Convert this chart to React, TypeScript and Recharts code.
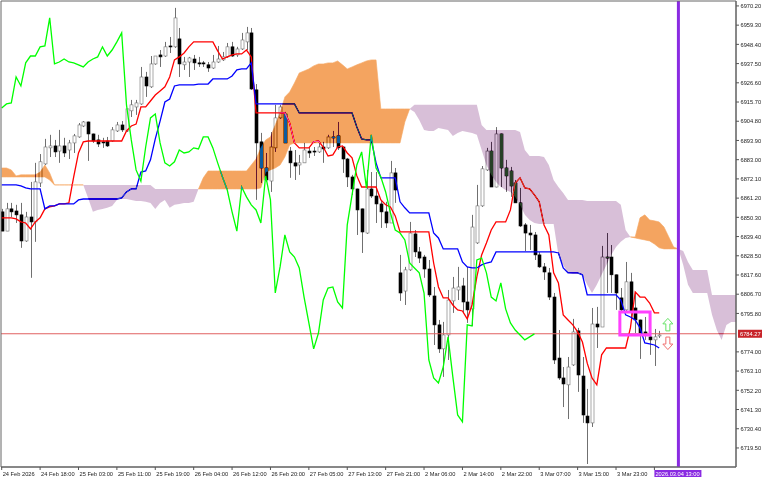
import {
  Area,
  Bar,
  CartesianGrid,
  ComposedChart,
  Line,
  ReferenceArea,
  ReferenceDot,
  ReferenceLine,
  XAxis,
  YAxis,
} from "recharts";

const FONT = "'Liberation Sans', sans-serif";
const FONT_SIZE = 5.7;
const PURPLE = "#8a2be2";
const LAST_PRICE = 6784.27;
const LAST_PRICE_COLOR = "#c8242a";

const opens = [
  6853.4, 6842.5, 6855.1, 6853.9, 6851.7, 6836.9, 6850.5, 6847.7, 6869.8, 6880.6,
  6889.7, 6890.8, 6887.9, 6890.8, 6888.5, 6892.5, 6895.9, 6902.1, 6904.4, 6897.6,
  6894.2, 6893.1, 6893.6, 6893.6, 6899.3, 6902.7, 6899.3, 6910.7, 6912.9, 6914.6,
  6929.9, 6924.3, 6937.3, 6942.4, 6941.8, 6947.5, 6947.0, 6951.5, 6936.8, 6938.4,
  6940.1, 6937.9, 6937.9, 6936.8, 6935.0, 6938.4, 6939.6, 6941.3, 6947.0, 6942.4,
  6945.8, 6949.8, 6954.9, 6922.6, 6893.1, 6878.3, 6870.9, 6889.7, 6906.7, 6908.9,
  6887.9, 6881.2, 6880.0, 6881.2, 6887.9, 6887.9, 6887.4, 6890.2, 6889.7, 6895.9,
  6896.5, 6890.2, 6883.4, 6873.2, 6866.4, 6855.1, 6841.4, 6866.4, 6862.4, 6857.9,
  6853.4, 6847.1, 6875.5, 6818.8, 6808.5, 6820.5, 6840.9, 6830.7, 6827.8, 6821.0,
  6805.7, 6789.3, 6775.7, 6783.6, 6802.9, 6809.1, 6811.4, 6802.3, 6798.4, 6835.8,
  6856.8, 6877.2, 6887.9, 6867.5, 6897.6, 6878.3, 6876.6, 6869.8, 6858.5, 6846.0,
  6841.4, 6840.3, 6829.0, 6822.2, 6818.8, 6805.1, 6770.5, 6759.2, 6755.3, 6766.6,
  6785.9, 6760.3, 6737.6, 6733.7, 6789.8, 6788.1, 6827.8, 6827.8, 6817.7, 6804.6,
  6797.8, 6813.7, 6798.9, 6792.1, 6785.3, 6782.5, 6780.8, 6783.0,
];
const highs = [
  6855.1, 6858.5, 6858.5, 6857.4, 6858.5, 6853.4, 6870.4, 6881.2, 6886.2, 6894.8,
  6897.1, 6894.2, 6899.9, 6895.4, 6894.2, 6897.6, 6903.8, 6904.9, 6904.6, 6897.8,
  6897.1, 6895.4, 6895.9, 6901.5, 6904.4, 6904.9, 6911.8, 6916.9, 6916.9, 6935.6,
  6932.8, 6941.8, 6941.8, 6945.2, 6949.8, 6952.6, 6969.1, 6957.7, 6941.3, 6941.3,
  6942.4, 6941.3, 6939.0, 6938.4, 6942.4, 6947.5, 6944.1, 6949.2, 6949.8, 6947.0,
  6954.9, 6958.3, 6957.7, 6925.9, 6898.2, 6886.8, 6898.7, 6914.1, 6914.1, 6910.1,
  6890.2, 6888.5, 6885.7, 6892.5, 6890.2, 6890.2, 6893.1, 6893.1, 6897.1, 6899.3,
  6904.4, 6890.4, 6884.0, 6874.4, 6866.6, 6855.3, 6877.2, 6876.0, 6876.0, 6860.2,
  6859.1, 6882.3, 6878.3, 6829.0, 6822.2, 6847.7, 6843.1, 6833.5, 6829.0, 6826.1,
  6810.8, 6792.1, 6791.0, 6809.1, 6816.5, 6822.2, 6816.0, 6822.2, 6851.7, 6868.7,
  6879.4, 6889.7, 6893.1, 6901.5, 6897.8, 6882.9, 6878.9, 6871.5, 6867.0, 6847.1,
  6846.0, 6842.0, 6830.7, 6824.4, 6821.6, 6807.4, 6786.4, 6765.4, 6771.1, 6792.7,
  6787.6, 6771.1, 6753.0, 6798.9, 6799.5, 6834.1, 6841.4, 6834.6, 6817.9, 6810.2,
  6825.0, 6818.8, 6808.0, 6792.3, 6793.8, 6790.4, 6787.0, 6785.9,
];
const lows = [
  6842.5, 6842.5, 6850.5, 6847.1, 6833.0, 6836.4, 6816.0, 6836.4, 6867.5, 6880.0,
  6884.5, 6884.5, 6881.2, 6884.5, 6883.4, 6886.8, 6895.4, 6901.5, 6882.3, 6892.5,
  6890.2, 6889.7, 6890.2, 6893.1, 6898.7, 6898.7, 6898.7, 6907.2, 6908.4, 6914.1,
  6918.6, 6923.7, 6936.8, 6935.6, 6941.3, 6943.5, 6946.4, 6929.9, 6933.9, 6929.9,
  6933.9, 6935.6, 6935.6, 6932.8, 6934.5, 6937.9, 6939.0, 6940.7, 6941.3, 6941.3,
  6945.2, 6945.2, 6922.6, 6860.2, 6869.8, 6870.4, 6864.7, 6887.4, 6906.1, 6892.5,
  6872.7, 6871.5, 6874.4, 6881.2, 6884.0, 6885.1, 6886.8, 6881.2, 6889.1, 6890.2,
  6888.5, 6875.5, 6867.5, 6863.0, 6840.3, 6830.1, 6840.9, 6861.3, 6847.1, 6844.3,
  6844.3, 6847.1, 6858.5, 6802.9, 6800.6, 6819.9, 6827.8, 6824.4, 6816.0, 6805.1,
  6777.9, 6773.4, 6759.8, 6769.4, 6796.1, 6803.4, 6796.1, 6790.4, 6788.7, 6835.2,
  6856.2, 6876.6, 6867.5, 6867.3, 6867.5, 6864.7, 6861.9, 6858.5, 6844.8, 6831.2,
  6831.8, 6826.1, 6821.6, 6814.8, 6803.4, 6767.1, 6758.1, 6742.7, 6735.9, 6766.0,
  6751.3, 6733.7, 6710.4, 6731.4, 6776.2, 6788.1, 6807.4, 6807.4, 6797.8, 6796.6,
  6796.6, 6792.1, 6784.7, 6770.0, 6780.8, 6772.3, 6766.0, 6781.9,
];
const closes = [
  6842.5, 6855.1, 6853.4, 6851.7, 6836.9, 6850.5, 6847.7, 6870.4, 6881.8, 6890.2,
  6890.8, 6887.4, 6890.8, 6886.8, 6892.5, 6896.5, 6902.7, 6904.4, 6897.6, 6893.6,
  6891.9, 6892.5, 6890.8, 6899.9, 6902.7, 6899.9, 6911.8, 6914.1, 6915.2, 6929.9,
  6924.8, 6937.3, 6941.8, 6941.3, 6947.0, 6947.0, 6963.4, 6937.3, 6938.4, 6940.7,
  6937.9, 6937.3, 6937.3, 6935.0, 6938.4, 6940.1, 6941.3, 6947.0, 6941.8, 6945.8,
  6950.9, 6954.9, 6923.1, 6892.5, 6878.3, 6871.5, 6890.2, 6906.7, 6912.9, 6892.5,
  6881.2, 6879.4, 6881.2, 6888.5, 6886.8, 6887.4, 6890.2, 6889.1, 6895.9, 6895.4,
  6889.7, 6883.4, 6873.2, 6866.4, 6854.5, 6842.0, 6866.4, 6862.4, 6857.9, 6853.4,
  6847.1, 6875.5, 6865.8, 6807.4, 6820.5, 6841.4, 6830.7, 6827.2, 6821.0, 6806.3,
  6789.3, 6775.7, 6783.6, 6803.4, 6810.2, 6810.8, 6802.3, 6797.8, 6844.8, 6856.8,
  6877.8, 6887.9, 6867.5, 6897.6, 6878.3, 6873.8, 6868.1, 6858.5, 6845.4, 6841.4,
  6840.3, 6829.0, 6822.2, 6819.3, 6805.1, 6769.4, 6759.2, 6755.8, 6765.4, 6785.3,
  6760.9, 6738.2, 6733.7, 6789.8, 6788.1, 6827.8, 6827.2, 6817.7, 6807.4, 6797.8,
  6813.7, 6796.6, 6792.1, 6784.7, 6783.6, 6780.8, 6782.5, 6783.6,
];

const tenkan = [
  6850.0, 6850.0, 6850.0, 6849.4, 6847.7, 6847.1, 6843.7, 6847.7, 6850.0, 6855.1,
  6856.2, 6856.8, 6857.9, 6857.9, 6858.5, 6873.2, 6886.8, 6893.1, 6893.6, 6893.6,
  6893.6, 6893.6, 6893.6, 6893.6, 6893.6, 6893.6, 6899.3, 6902.1, 6903.2, 6912.9,
  6912.9, 6916.3, 6919.7, 6922.0, 6924.3, 6929.9, 6939.6, 6941.3, 6943.5, 6947.0,
  6949.8, 6949.8, 6949.8, 6949.8, 6949.8, 6944.7, 6940.1, 6941.3, 6942.4, 6943.0,
  6943.0, 6945.2, 6941.3, 6909.5, 6909.5, 6909.5, 6909.5, 6909.5, 6909.5, 6909.5,
  6903.8, 6892.5, 6889.7, 6889.7, 6889.7, 6893.1, 6893.6, 6890.2, 6885.1, 6885.7,
  6890.2, 6890.8, 6886.8, 6884.0, 6873.8, 6867.5, 6867.5, 6867.5, 6867.5, 6860.2,
  6857.4, 6856.2, 6851.1, 6842.0, 6842.0, 6842.0, 6842.0, 6842.0, 6842.0, 6842.0,
  6824.4, 6810.8, 6804.6, 6804.6, 6800.6, 6797.8, 6797.2, 6792.7, 6800.6, 6816.5,
  6829.0, 6835.8, 6843.1, 6847.7, 6847.7, 6847.7, 6854.5, 6869.8, 6872.7, 6867.0,
  6866.4, 6863.0, 6859.1, 6846.0, 6840.3, 6818.8, 6813.1, 6795.0, 6792.1, 6789.3,
  6785.3, 6779.6, 6767.6, 6759.2, 6755.3, 6772.3, 6776.2, 6776.2, 6776.2, 6776.2,
  6776.2, 6787.6, 6808.0, 6805.1, 6805.1, 6801.7, 6796.1, 6796.1,
];
const kijun = [
  6868.7, 6868.7, 6868.7, 6868.7, 6868.1, 6867.0, 6866.4, 6866.4, 6866.4, 6855.1,
  6856.8, 6856.8, 6857.9, 6857.9, 6857.9, 6857.9, 6860.2, 6860.7, 6860.7, 6860.7,
  6860.7, 6860.7, 6860.7, 6860.7, 6860.7, 6861.3, 6864.7, 6866.4, 6866.4, 6876.0,
  6876.6, 6882.9, 6894.8, 6904.9, 6915.7, 6917.4, 6924.8, 6925.4, 6925.4, 6925.4,
  6925.4, 6925.9, 6925.9, 6925.9, 6928.8, 6928.8, 6928.8, 6928.8, 6930.5, 6933.9,
  6934.5, 6934.5, 6937.9, 6914.6, 6914.6, 6914.6, 6914.6, 6914.6, 6914.6, 6914.6,
  6914.6, 6914.6, 6909.5, 6909.5, 6909.5, 6909.5, 6909.5, 6909.5, 6909.5, 6909.5,
  6909.5, 6909.5, 6909.5, 6909.5, 6901.5, 6894.8, 6894.2, 6894.2, 6881.2, 6872.7,
  6872.7, 6872.7, 6872.7, 6859.1, 6855.7, 6852.8, 6852.8, 6852.8, 6852.8, 6852.8,
  6841.4, 6838.6, 6832.4, 6832.4, 6832.4, 6832.4, 6825.0, 6822.2, 6821.6, 6821.6,
  6823.3, 6824.4, 6825.0, 6830.7, 6830.7, 6830.7, 6830.7, 6830.7, 6830.7, 6830.7,
  6830.7, 6830.7, 6830.7, 6830.7, 6830.7, 6830.7, 6830.1, 6821.6, 6818.8, 6818.8,
  6818.8, 6817.7, 6806.3, 6806.3, 6806.3, 6806.3, 6806.3, 6806.3, 6806.3, 6803.4,
  6795.0, 6793.8, 6792.1, 6787.6, 6779.1, 6778.5, 6777.9, 6776.2,
];
const chikou = [
  6912.3, 6914.6, 6915.2, 6929.9, 6924.8, 6937.9, 6941.8, 6941.8, 6947.0, 6947.5,
  6963.4, 6937.3, 6938.4, 6940.1, 6938.4, 6937.9, 6936.8, 6935.6, 6938.4, 6940.1,
  6941.3, 6947.0, 6941.8, 6945.2, 6949.8, 6954.9, 6914.1, 6894.2, 6877.2, 6870.9,
  6890.2, 6906.7, 6908.9, 6892.5, 6881.2, 6879.4, 6881.8, 6888.5, 6886.8, 6887.4,
  6889.7, 6889.1, 6895.9, 6895.9, 6889.7, 6881.2, 6873.2, 6865.8, 6853.4, 6842.5,
  6867.5, 6861.9, 6857.4, 6854.5, 6847.1, 6873.8, 6860.2, 6807.4, 6822.2, 6840.3,
  6830.7, 6827.8, 6821.6, 6805.1, 6790.4, 6775.7, 6784.7, 6803.4, 6810.2, 6810.8,
  6802.3, 6798.9, 6846.0, 6863.0, 6880.0, 6887.4, 6867.0, 6897.1, 6878.3, 6873.2,
  6864.7, 6852.8, 6843.1, 6841.4, 6837.5, 6824.4, 6821.6, 6818.8, 6807.4, 6769.4,
  6759.2, 6756.4, 6765.4, 6782.5, 6759.8, 6738.2, 6734.3, 6789.3, 6788.7, 6826.1,
  6827.2, 6818.8, 6805.1, 6802.9, 6813.1, 6798.4, 6790.4, 6786.4, 6783.6, 6780.8,
  6782.5, 6784.2,
];
const senkouA = [
  6878.3, 6878.3, 6877.2, 6873.8, 6874.4, 6874.4, 6874.4, 6874.4, 6876.0, 6880.0,
  6875.5, 6868.7, 6868.7, 6868.7, 6868.7, 6868.7, 6868.7, 6868.7, 6861.3, 6853.4,
  6854.5, 6855.1, 6855.7, 6856.8, 6860.2, 6860.7, 6860.7, 6860.2, 6859.6, 6859.6,
  6859.1, 6858.5, 6855.1, 6858.5, 6860.2, 6855.7, 6857.4, 6857.9, 6858.5, 6858.5,
  6859.1, 6866.4, 6872.7, 6876.6, 6876.6, 6876.6, 6876.6, 6876.6, 6876.6, 6876.6,
  6876.6, 6876.6, 6880.0, 6883.4, 6889.7, 6894.2, 6895.9, 6902.7, 6909.5, 6918.6,
  6921.4, 6926.5, 6932.2, 6933.3, 6934.5, 6936.2, 6937.3, 6937.3, 6937.9, 6937.9,
  6939.0, 6936.8, 6934.5, 6935.6, 6936.8, 6937.9, 6939.0, 6939.6, 6939.6, 6911.8,
  6911.8, 6911.8, 6911.8, 6911.8, 6911.8, 6911.8, 6910.1, 6905.5, 6899.9, 6899.3,
  6899.3, 6901.0, 6900.4, 6899.9, 6896.5, 6898.2, 6899.3, 6898.7, 6898.2, 6897.1,
  6888.5, 6880.0, 6874.4, 6870.4, 6867.5, 6865.8, 6864.7, 6861.9, 6857.4, 6851.7,
  6848.8, 6847.1, 6846.5, 6846.5, 6846.5, 6846.5, 6829.0, 6823.3, 6818.8, 6818.2,
  6818.2, 6817.7, 6812.0, 6807.4, 6812.0, 6817.7, 6823.3, 6829.0, 6833.5, 6836.4,
  6838.6, 6839.2, 6839.2, 6850.0, 6851.7, 6848.8, 6848.3, 6847.7, 6844.8, 6839.2,
  6833.5, 6832.4, 6823.3, 6812.0, 6807.4, 6807.4, 6807.4, 6807.4, 6795.0, 6786.4,
  6780.8, 6789.3, 6791.0, 6791.0,
];
const senkouB = [
  6873.2, 6873.2, 6873.2, 6873.2, 6873.2, 6873.2, 6873.2, 6873.2, 6873.2, 6873.2,
  6871.5, 6868.7, 6868.7, 6868.7, 6868.7, 6868.7, 6868.7, 6868.7, 6868.7, 6868.7,
  6868.7, 6868.7, 6868.7, 6868.7, 6868.7, 6868.7, 6868.7, 6868.7, 6868.7, 6868.7,
  6868.7, 6868.7, 6866.4, 6866.4, 6866.4, 6866.4, 6866.4, 6866.4, 6866.4, 6866.4,
  6866.4, 6866.4, 6866.4, 6866.4, 6866.4, 6866.4, 6866.4, 6866.4, 6866.4, 6866.4,
  6866.4, 6866.4, 6866.4, 6866.4, 6867.0, 6876.0, 6877.2, 6878.3, 6880.0, 6884.5,
  6891.4, 6892.5, 6892.5, 6892.5, 6892.5, 6892.5, 6892.5, 6892.5, 6892.5, 6892.5,
  6892.5, 6892.5, 6892.5, 6892.5, 6892.5, 6892.5, 6892.5, 6892.5, 6892.5, 6892.5,
  6892.5, 6892.5, 6892.5, 6892.5, 6904.4, 6911.8, 6914.1, 6914.1, 6914.1, 6914.1,
  6914.1, 6914.1, 6914.1, 6914.1, 6914.1, 6914.1, 6914.1, 6914.1, 6914.1, 6914.1,
  6902.7, 6899.9, 6899.9, 6899.9, 6899.9, 6899.9, 6899.9, 6899.9, 6898.7, 6888.5,
  6885.1, 6885.1, 6885.1, 6884.5, 6880.0, 6871.5, 6867.5, 6864.1, 6860.2, 6860.2,
  6860.2, 6860.2, 6859.6, 6859.6, 6859.6, 6859.6, 6859.6, 6859.6, 6859.6, 6857.4,
  6843.1, 6839.2, 6838.6, 6838.0, 6837.5, 6836.9, 6835.2, 6833.0, 6832.4, 6832.4,
  6832.4, 6832.4, 6831.2, 6825.0, 6820.5, 6820.5, 6820.5, 6820.5, 6806.3, 6806.3,
  6806.3, 6806.3, 6806.3, 6806.3,
];

const priceTicks = [
  6970.2, 6959.3, 6948.4, 6937.5, 6926.6, 6915.7, 6904.8, 6893.9, 6883.0, 6872.1,
  6861.2, 6850.3, 6839.4, 6828.5, 6817.6, 6806.7, 6795.8, LAST_PRICE, 6774.0, 6763.1,
  6752.2, 6741.3, 6730.4, 6719.5,
];
const timeTicks = [0, 8, 16, 24, 32, 40, 48, 56, 64, 72, 80, 88, 96, 104, 112, 120, 128, 136];
const timeLabels = [
  "24 Feb 2026", "24 Feb 18:00", "25 Feb 03:00", "25 Feb 11:00", "25 Feb 19:00", "26 Feb 04:00",
  "26 Feb 12:00", "26 Feb 20:00", "27 Feb 05:00", "27 Feb 13:00", "27 Feb 21:00", "2 Mar 06:00",
  "2 Mar 14:00", "2 Mar 22:00", "3 Mar 07:00", "3 Mar 15:00", "3 Mar 23:00", "2026.03.04 13:00",
];

const chartData = senkouA.map((a, i) => {
  const b = senkouB[i];
  return {
    bar: i,
    open: opens[i],
    close: closes[i],
    high: highs[i],
    low: lows[i],
    range: i < opens.length ? [lows[i], highs[i]] : null,
    tenkan: tenkan[i] ?? null,
    kijun: kijun[i] ?? null,
    chikou: chikou[i] ?? null,
    kumoUp: a >= b ? [b, a] : null,
    kumoDown: a <= b ? [a, b] : null,
  };
});

function Candle(props: any) {
  const { x, y, width, height, payload } = props;
  if (!payload || payload.range == null) return null;
  const { open, close, high, low } = payload;
  const cx = Math.round(x + width / 2) + 0.5;
  const perUnit = height / Math.max(high - low, 0.01);
  const top = y + (high - Math.max(open, close)) * perUnit;
  const bottom = y + (high - Math.min(open, close)) * perUnit;
  const up = close >= open;
  return (
    <g>
      <line x1={cx} x2={cx} y1={y} y2={y + height} stroke="#707070" strokeWidth={1} />
      <rect
        x={cx - 1.5}
        y={top}
        width={3}
        height={Math.max(bottom - top, 1)}
        fill={up ? "#ffffff" : "#000000"}
        stroke={up ? "#707070" : "#000000"}
        strokeWidth={0.6}
      />
    </g>
  );
}

function PriceTick({ x, y, payload }: any) {
  const last = payload.value === LAST_PRICE;
  return (
    <g>
      {last ? (
        <g>
          <rect x={x + 2} y={y - 4} width={24} height={8} fill={LAST_PRICE_COLOR} />
          <text x={x + 4} y={y + 2.2} fontSize={FONT_SIZE} fontFamily={FONT} fill="#ffffff">
            {payload.value.toFixed(2)}
          </text>
        </g>
      ) : (
        <g>
          <line x1={x} x2={x + 3} y1={y} y2={y} stroke="#555555" />
          <text x={x + 4.5} y={y + 2.2} fontSize={FONT_SIZE} fontFamily={FONT} fill="#222222">
            {payload.value.toFixed(2)}
          </text>
        </g>
      )}
    </g>
  );
}

function TimeTick({ x, y, payload }: any) {
  const label = timeLabels[timeTicks.indexOf(payload.value)];
  const last = payload.value === timeTicks[timeTicks.length - 1];
  return (
    <g>
      <line x1={x} x2={x} y1={y} y2={y + 3} stroke="#555555" />
      {last && <rect x={x} y={y + 3} width={47} height={7} fill={PURPLE} />}
      <text x={x + 1} y={y + 8.8} fontSize={FONT_SIZE} fontFamily={FONT} fill={last ? "#ffffff" : "#222222"}>
        {label}
      </text>
    </g>
  );
}

function UpArrow({ cx, cy }: any) {
  const p = [[0, -6.5], [5, -1], [2, -1], [2, 6], [-2, 6], [-2, -1], [-5, -1]];
  return <polygon points={p.map(([a, b]) => `${cx + a},${cy + b}`).join(" ")} fill="#ffffff" stroke="#66e266" strokeWidth={1} />;
}

function DownArrow({ cx, cy }: any) {
  const p = [[0, 6.5], [5, 1], [2, 1], [2, -6], [-2, -6], [-2, 1], [-5, 1]];
  return <polygon points={p.map(([a, b]) => `${cx + a},${cy + b}`).join(" ")} fill="#ffffff" stroke="#f07070" strokeWidth={1} />;
}

export default function App() {
  return (
    <div style={{ width: 768, height: 480, background: "#ffffff", isolation: "isolate" }}>
      <style>{`body{margin:0} .kumo{mix-blend-mode:difference}`}</style>
      <ComposedChart
        width={768}
        height={480}
        data={chartData}
        margin={{ top: 1, right: 0, bottom: 0, left: 1 }}
        barCategoryGap={0}
      >
        <CartesianGrid horizontal={false} vertical={false} fill="#ffffff" />
        <XAxis
          dataKey="bar"
          type="number"
          domain={[-0.146, 153]}
          allowDataOverflow
          ticks={timeTicks}
          interval={0}
          height={13}
          tickLine={false}
          tickSize={0}
          tickMargin={0}
          tick={<TimeTick />}
          axisLine={{ stroke: "#555555" }}
        />
        <YAxis
          orientation="right"
          domain={[6708.7, 6973]}
          allowDataOverflow
          ticks={priceTicks}
          interval={0}
          width={32}
          tickLine={false}
          tickSize={0}
          tickMargin={0}
          tick={<PriceTick />}
          axisLine={{ stroke: "#555555" }}
        />
        <ReferenceLine y={LAST_PRICE} stroke="#e06060" strokeWidth={1} />
        <Bar dataKey="range" shape={<Candle />} isAnimationActive={false} />
        <Line dataKey="tenkan" stroke="#ff0000" strokeWidth={1.3} dot={false} activeDot={false} type="linear" isAnimationActive={false} />
        <Line dataKey="kijun" stroke="#0000ff" strokeWidth={1.3} dot={false} activeDot={false} type="linear" isAnimationActive={false} />
        <Line dataKey="chikou" stroke="#00ff00" strokeWidth={1.3} dot={false} activeDot={false} type="linear" isAnimationActive={false} />
        <Area className="kumo" dataKey="kumoUp" fill="#0b5b9f" fillOpacity={1} stroke="#0b5b9f" strokeWidth={0.6} activeDot={false} type="linear" isAnimationActive={false} {...({ zIndex: 450 } as any)} />
        <Area className="kumo" dataKey="kumoDown" fill="#274027" fillOpacity={1} stroke="none" activeDot={false} type="linear" isAnimationActive={false} {...({ zIndex: 450 } as any)} />
        <ReferenceLine x={141} stroke={PURPLE} strokeWidth={3} {...({ zIndex: 500 } as any)} />
        <ReferenceArea x1={128.8} x2={135.1} y1={6783.6} y2={6796.6} fill="none" stroke="#ff40ff" strokeWidth={3} {...({ zIndex: 500 } as any)} />
        <ReferenceDot x={138.8} y={6789.3} shape={<UpArrow />} {...({ zIndex: 500 } as any)} />
        <ReferenceDot x={138.8} y={6779} shape={<DownArrow />} {...({ zIndex: 500 } as any)} />
        <ReferenceArea x1={-0.146} x2={153} y1={6708.7} y2={6973} fill="none" stroke="#666666" strokeWidth={1} {...({ zIndex: 500 } as any)} />
      </ComposedChart>
    </div>
  );
}
